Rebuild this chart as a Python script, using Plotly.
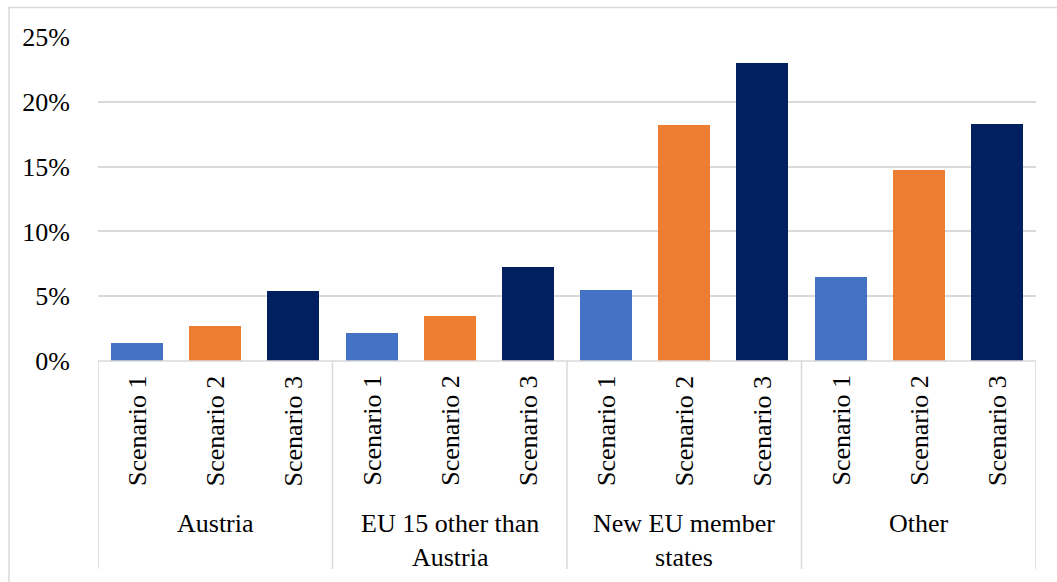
import plotly.graph_objects as go

# Data: share by origin group under three scenarios (in %)
groups = ["Austria", "EU 15 other than<br>Austria", "New EU member<br>states", "Other"]
scenarios = ["Scenario 1", "Scenario 2", "Scenario 3"]
scenario_1 = [1.4, 2.15, 5.5, 6.45]
scenario_2 = [2.7, 3.45, 18.2, 14.75]
scenario_3 = [5.4, 7.25, 23.0, 18.3]
y_ticks = [0, 5, 10, 15, 20, 25]
y_tick_labels = [f"{v}%" for v in y_ticks]

colors = ["#4472C4", "#ED7D31", "#002060"]
series = [scenario_1, scenario_2, scenario_3]

FONT = "Liberation Serif"
GRID = "#D9D9D9"
n_s = len(scenarios)

fig = go.Figure()
for s_idx, (name, vals, col) in enumerate(zip(scenarios, series, colors)):
    xs = [g_idx * n_s + s_idx for g_idx in range(len(groups))]
    fig.add_trace(go.Bar(
        x=xs, y=vals, name=name, width=0.665,
        marker=dict(color=col, line=dict(width=0)),
        showlegend=False,
    ))

# Plot-area geometry in pixels (used to convert label offsets to paper units)
W, H = 1057, 582
m_l, m_r, m_t, m_b = 98, 21, 37, 221
plot_h = H - m_t - m_b


def py(px):
    """Paper y coordinate for a pixel row measured from the top of the page."""
    return (H - m_b - px) / plot_h


annotations = []
shapes = []
# Inner category labels (rotated scenario names)
for g_idx in range(len(groups)):
    for s_idx, name in enumerate(scenarios):
        annotations.append(dict(
            x=g_idx * n_s + s_idx, y=py(374), xref="x", yref="paper",
            text=name, textangle=-90, showarrow=False,
            xanchor="center", yanchor="top",
            font=dict(family=FONT, size=26, color="black"),
        ))
    # Outer category labels
    annotations.append(dict(
        x=g_idx * n_s + 1, y=py(507), xref="x", yref="paper",
        text=groups[g_idx], showarrow=False,
        xanchor="center", yanchor="top", align="center",
        font=dict(family=FONT, size=26, color="black"),
    ))

# Group dividers below the category axis
for b in range(len(groups) + 1):
    shapes.append(dict(
        type="line", xref="x", yref="paper",
        x0=b * n_s - 0.5, x1=b * n_s - 0.5, y0=0, y1=py(569),
        line=dict(color=GRID, width=1.5),
    ))
# Horizontal axis line
shapes.append(dict(
    type="line", xref="paper", yref="paper",
    x0=0, x1=1, y0=0, y1=0, line=dict(color=GRID, width=1.5),
))
# Chart frame
shapes.append(dict(
    type="rect", xref="paper", yref="paper",
    x0=(9 - m_l) / (W - m_l - m_r), x1=(1070 - m_l) / (W - m_l - m_r),
    y0=py(600), y1=py(7.5),
    line=dict(color=GRID, width=1.5), fillcolor="rgba(0,0,0,0)", layer="below",
))

fig.update_layout(
    width=W, height=H,
    margin=dict(l=m_l, r=m_r, t=m_t, b=m_b),
    paper_bgcolor="white", plot_bgcolor="white",
    bargap=0, barmode="overlay",
    font=dict(family=FONT, size=26, color="black"),
    xaxis=dict(
        range=[-0.5, len(groups) * n_s - 0.5],
        showticklabels=False, showgrid=False, zeroline=False, showline=False,
        fixedrange=True,
    ),
    yaxis=dict(
        range=[0, 25], tickmode="array", tickvals=y_ticks, ticktext=y_tick_labels,
        showgrid=True, gridcolor=GRID, gridwidth=1.5,
        zeroline=False, showline=False,
        ticks="outside", ticklen=22, tickcolor="rgba(0,0,0,0)",
        tickfont=dict(family=FONT, size=26, color="black"),
        fixedrange=True,
    ),
    annotations=annotations,
    shapes=shapes,
)

fig.write_html("out.html")
